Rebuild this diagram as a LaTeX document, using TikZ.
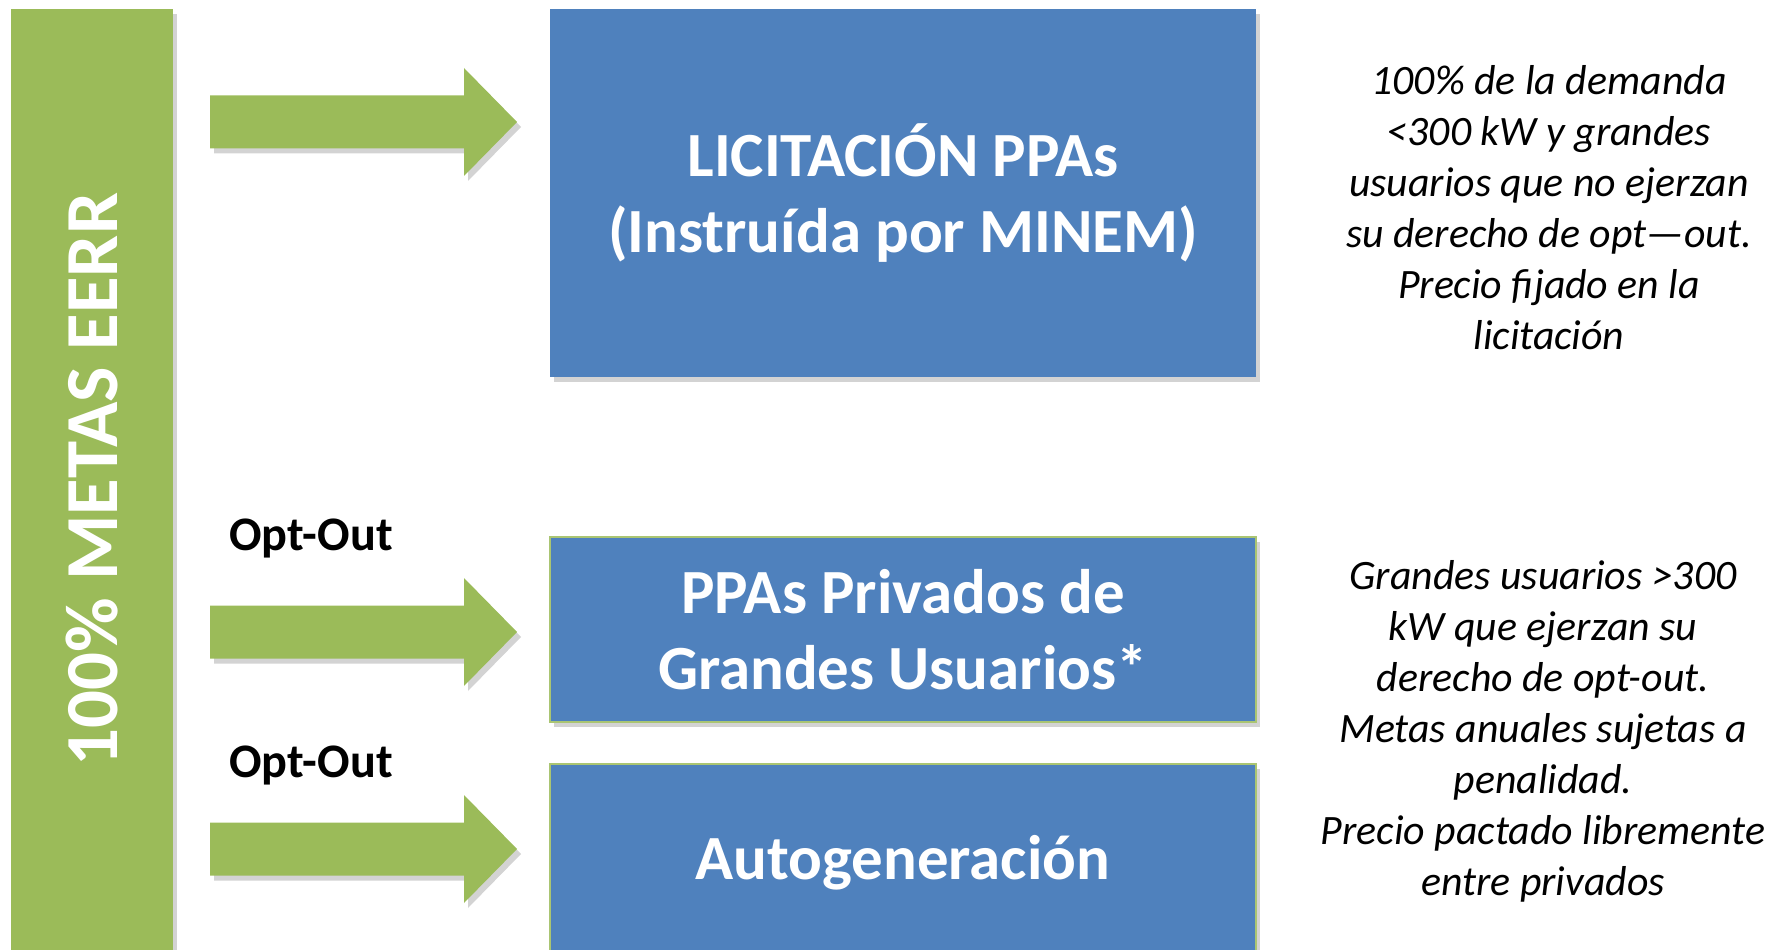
\documentclass[tikz,border=0pt]{standalone}
\usepackage{fontspec}
\setmainfont{Carlito}
\usepackage{tikz}
\usetikzlibrary{shadows}
\definecolor{verde}{HTML}{9BBB59}
\definecolor{azul}{HTML}{4F81BD}
\tikzstyle{sombra} = [drop shadow={opacity=0.35, shadow xshift=0.04cm, shadow yshift=-0.05cm}]
\tikzstyle{barra} = [rectangle, fill=verde, text=white, sombra, font=\bfseries\fontsize{21.3}{25}\selectfont]
\tikzstyle{caja} = [rectangle, fill=azul, text=white, sombra, minimum width=7.06cm, align=center, font=\bfseries\fontsize{17.9}{21.8}\selectfont]
\tikzstyle{borde} = [draw=verde!85, line width=0.8pt]
\tikzstyle{flecha} = [fill=verde, sombra]
\tikzstyle{optout} = [font=\bfseries\fontsize{13.7}{16}\selectfont]
\tikzstyle{nota} = [align=center, font=\itshape\fontsize{11.9}{14.5}\selectfont]

\begin{document}
\begin{tikzpicture}
      \useasboundingbox (0,0) rectangle (17.83,-9.50);
      \node [barra, rotate=90, minimum width=9.41cm, minimum height=1.62cm] (metas) at (0.92,-4.795) {100\% METAS EERR};

      \node [caja, minimum height=3.68cm] (licit) at (9.03,-1.93) {LICITACIÓN PPAs\\(Instruída por MINEM)};
      \node [caja, borde, minimum height=1.85cm] (privados) at (9.03,-6.295) {PPAs Privados de\\Grandes Usuarios*};
      \node [caja, borde, minimum height=1.98cm] (autogen) at (9.03,-8.63) {Autogeneración};

      \foreach \y/\n in {-1.22/a1, -6.32/a2, -8.49/a3}{
        \coordinate (\n) at (2.10,\y);
        \fill [flecha] (\n) ++(0,0.265) -- ++(2.54,0) -- ++(0,0.275) -- ++(0.53,-0.54)
          -- ++(-0.53,-0.54) -- ++(0,0.275) -- ++(-2.54,0) -- cycle;
      }

      \node [optout] (opt1) at (3.11,-5.38) {Opt-Out};
      \node [optout] (opt2) at (3.11,-7.65) {Opt-Out};

      \node [nota] (notalicit) at (15.49,-2.08) {100\% de la demanda\\<300 kW y grandes\\usuarios que no ejerzan\\su derecho de opt—out.\\Precio fijado en la\\licitación};
      \node [nota] (notaprivados) at (15.43,-7.31) {Grandes usuarios >300\\kW que ejerzan su\\derecho de opt-out.\\Metas anuales sujetas a\\penalidad.\\Precio pactado libremente\\entre privados};
\end{tikzpicture}
\end{document}
